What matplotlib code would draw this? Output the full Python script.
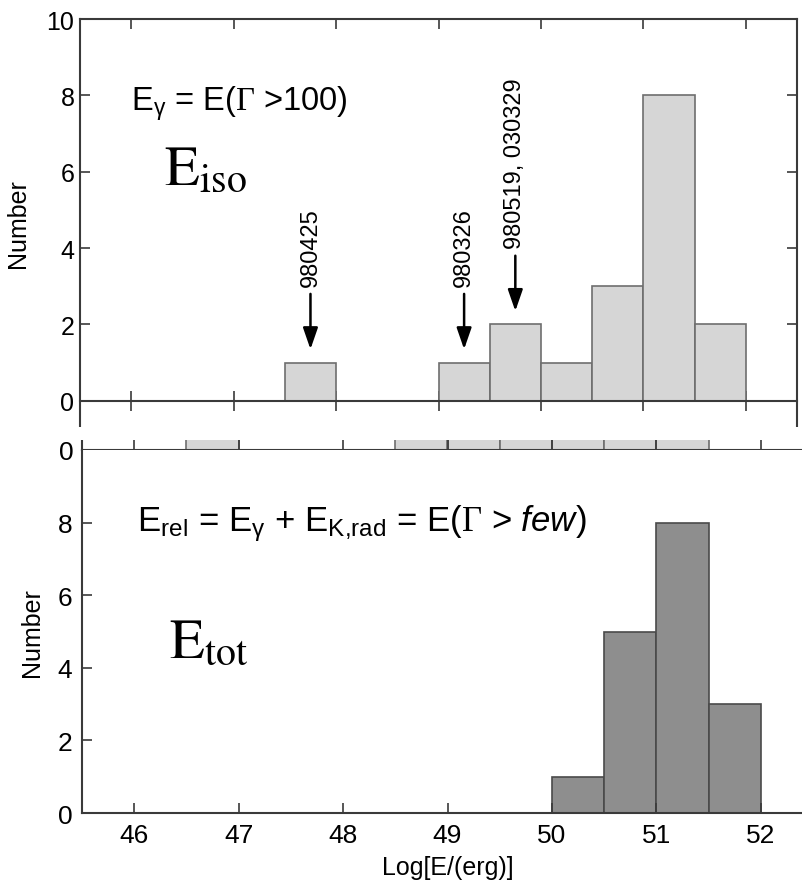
import matplotlib
matplotlib.use("Agg")
import matplotlib.pyplot as plt
from matplotlib.patches import Rectangle

plt.rcParams['font.family'] = ['Liberation Sans', 'DejaVu Sans']
plt.rcParams['mathtext.fontset'] = 'custom'
plt.rcParams['mathtext.rm'] = 'Liberation Sans'
plt.rcParams['mathtext.it'] = 'Liberation Sans:italic'
plt.rcParams['mathtext.sf'] = 'Liberation Serif'

# histogram data (left bin edges, counts), bin width 0.5
BIN_W = 0.5
iso_left = [47.5, 49.0, 49.5, 50.0, 50.5, 51.0, 51.5]
iso_counts = [1, 1, 2, 1, 3, 8, 2]
tot_left = [50.0, 50.5, 51.0, 51.5]
tot_counts = [1, 5, 8, 3]
# strip of a cut-off panel between the two (only the bar bottoms show)
strip_left = [46.5, 48.5, 49.0, 49.5, 50.0, 50.5, 51.0]
strip_counts = [1, 1, 1, 1, 1, 1, 1]

# marked bursts
burst_x = [47.75, 49.25, 49.75]
burst_names = ['980425', '980326', '980519, 030329']
arrow_tail = [2.8, 2.8, 3.8]
arrow_tip = [1.35, 1.35, 2.35]

xticks = [46, 47, 48, 49, 50, 51, 52]
W, H = 803, 887
SPINE = '#3a3a3a'


def fx(px):
    return px / W


def fy(py):
    return 1 - py / H


fig = plt.figure(figsize=(W / 100, H / 100), dpi=100)

# ---- top panel (E_iso)
ax1 = fig.add_axes([fx(80), fy(427), fx(797 - 80), (427 - 20) / H])
ax1.bar(iso_left, iso_counts, width=BIN_W, align='edge',
        color='#d6d6d6', edgecolor='#6e6e6e', linewidth=1.2, zorder=2)
ax1.set_xlim(45.5, 52.5)
ax1.set_ylim(-0.66, 10)
ax1.spines['bottom'].set_position(('data', 0))
for s in ax1.spines.values():
    s.set_color(SPINE)
    s.set_linewidth(1.5)
ax1.spines['bottom'].set_zorder(3)
ax1.set_xticks(xticks)
ax1.set_yticks([0, 2, 4, 6, 8, 10])
ax1.tick_params(axis='x', direction='inout', length=14, width=1.2,
                color=SPINE, labelbottom=False)
ax1.tick_params(axis='y', direction='in', length=7, width=1.2,
                color=SPINE, right=True, labelsize=18, pad=4)
ax1t = ax1.twiny()
ax1t.set_xlim(ax1.get_xlim())
ax1t.set_xticks(xticks)
ax1t.tick_params(axis='x', direction='in', length=7, width=1.2,
                 color=SPINE, labeltop=False)
for s in ax1t.spines.values():
    s.set_visible(False)
ax1.set_ylabel('Number', fontsize=18, labelpad=12)

for x, name, t0, t1 in zip(burst_x, burst_names, arrow_tail, arrow_tip):
    ax1.annotate('', xy=(x, t1), xytext=(x, t0),
                 arrowprops=dict(arrowstyle='-|>,head_width=0.45,head_length=1.3',
                                 color='k', lw=1.8, shrinkA=0, shrinkB=0))
    ax1.text(x, t0 + 0.2, name, rotation=90, ha='center', va='bottom',
             fontsize=17)

ax1.text(46.0, 7.64, r'E$_{\mathrm{\gamma}}$ = E($\mathsf{\Gamma}$ >100)',
         fontsize=23.5, ha='left', va='baseline')
ax1.text(46.32, 5.68, r'$\mathrm{E}_{\mathrm{iso}}$', fontsize=41,
         math_fontfamily='stix', ha='left', va='baseline')

# ---- strip of the cut-off middle panel
ax_s = fig.add_axes([fx(82), fy(451), fx(813 - 82), (451 - 441) / H])
ax_s.bar(strip_left, strip_counts, width=BIN_W, align='edge',
         color='#d6d6d6', edgecolor='#6e6e6e', linewidth=1.2)
ax_s.set_xlim(45.5, 52.5)
ax_s.set_ylim(0, 0.3)
for k in ['top', 'right']:
    ax_s.spines[k].set_visible(False)
for k in ['left', 'bottom']:
    ax_s.spines[k].set_color(SPINE)
    ax_s.spines[k].set_linewidth(1.5)
ax_s.set_xticks(xticks)
ax_s.set_yticks([0])
ax_s.tick_params(axis='x', direction='inout', length=16, width=1.2,
                 color=SPINE, labelbottom=False)
ax_s.tick_params(axis='y', length=0, labelsize=19, pad=6)

# ---- bottom panel (E_tot)
ax2 = fig.add_axes([fx(82), fy(814), fx(813 - 82), (814 - 451) / H])
ax2.bar(tot_left, tot_counts, width=BIN_W, align='edge',
        color='#8e8e8e', edgecolor='#4a4a4a', linewidth=1.2)
ax2.set_xlim(45.5, 52.5)
ax2.set_ylim(0, 10)
ax2.spines['top'].set_visible(False)
for s in ax2.spines.values():
    s.set_color(SPINE)
    s.set_linewidth(1.5)
ax2.set_xticks(xticks)
ax2.set_yticks([0, 2, 4, 6, 8])
ax2.tick_params(axis='both', direction='in', length=7, width=1.2,
                color=SPINE, labelsize=19, pad=7)
ax2.set_ylabel('Number', fontsize=18, labelpad=10)
ax2.set_xlabel('Log[E/(erg)]', fontsize=18, labelpad=6)

ax2.text(46.03, 7.8,
         r'E$_{\mathrm{rel}}$ = E$_{\mathrm{\gamma}}$ + E$_{\mathrm{K{,}rad}}$'
         r' = E($\mathsf{\Gamma}$ > $\mathit{few}$)',
         fontsize=25, ha='left', va='baseline')
ax2.text(46.33, 4.31, r'$\mathrm{E}_{\mathrm{tot}}$', fontsize=41,
         math_fontfamily='stix', ha='left', va='baseline')

# blank gap between the top panel and the strip
fig.patches.append(Rectangle((0, fy(441)), 1, (441 - 428) / H,
                             transform=fig.transFigure, facecolor='white',
                             edgecolor='none', zorder=10))

fig.savefig('out.png', dpi=100)
